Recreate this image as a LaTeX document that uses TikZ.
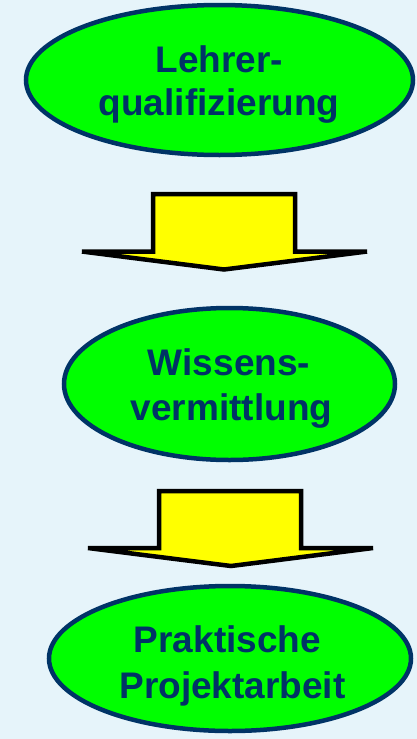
\documentclass[tikz,border=0pt]{standalone}
\usepackage{fontspec}
\setmainfont{Liberation Sans}
\usetikzlibrary{shapes.geometric}
\definecolor{bgblue}{HTML}{E6F4FA}
\definecolor{navy}{HTML}{003366}
\definecolor{lgreen}{HTML}{00FF00}
\definecolor{ayellow}{HTML}{FFFF00}
\tikzset{
  stage/.style={ellipse, draw=navy, line width=4.5pt, fill=lgreen, inner sep=0pt},
  stagetext/.style={anchor=base, inner sep=0pt, text=navy, font=\fontsize{37}{44}\selectfont\bfseries},
  bigarrow/.style={draw=black, line width=4.5pt, fill=ayellow}
}
\begin{document}
\begin{tikzpicture}[x=1pt,y=-1pt]
\fill[bgblue] (0,0) rectangle (417,739);
\useasboundingbox (0,0) rectangle (417,739);
\node[stage, minimum width=387pt, minimum height=150pt] (s1) at (219.5,80) {};
\node[stage, minimum width=331pt, minimum height=152pt] (s2) at (229.5,384) {};
\node[stage, minimum width=362pt, minimum height=145pt] (s3) at (230,658.5) {};
\node[stagetext] (t1a) at (219.5,72) {Lehrer-};
\node[stagetext] (t1b) at (219,115) {qualifizierung};
\node[stagetext] (t2a) at (229,375) {Wissens-};
\node[stagetext] (t2b) at (231.5,420) {vermittlung};
\node[stagetext] (t3a) at (227.5,652) {Praktische};
\node[stagetext] (t3b) at (232.5,698) {Projektarbeit};
\draw[bigarrow] (153,194) -- (295,194) -- (295,251.5) -- (367,251.5) -- (224,269.5) -- (82,251.5) -- (153,251.5) -- cycle;
\draw[bigarrow] (159,491) -- (301,491) -- (301,548) -- (373,548) -- (231,566) -- (88,548) -- (159,548) -- cycle;
\end{tikzpicture}
\end{document}
